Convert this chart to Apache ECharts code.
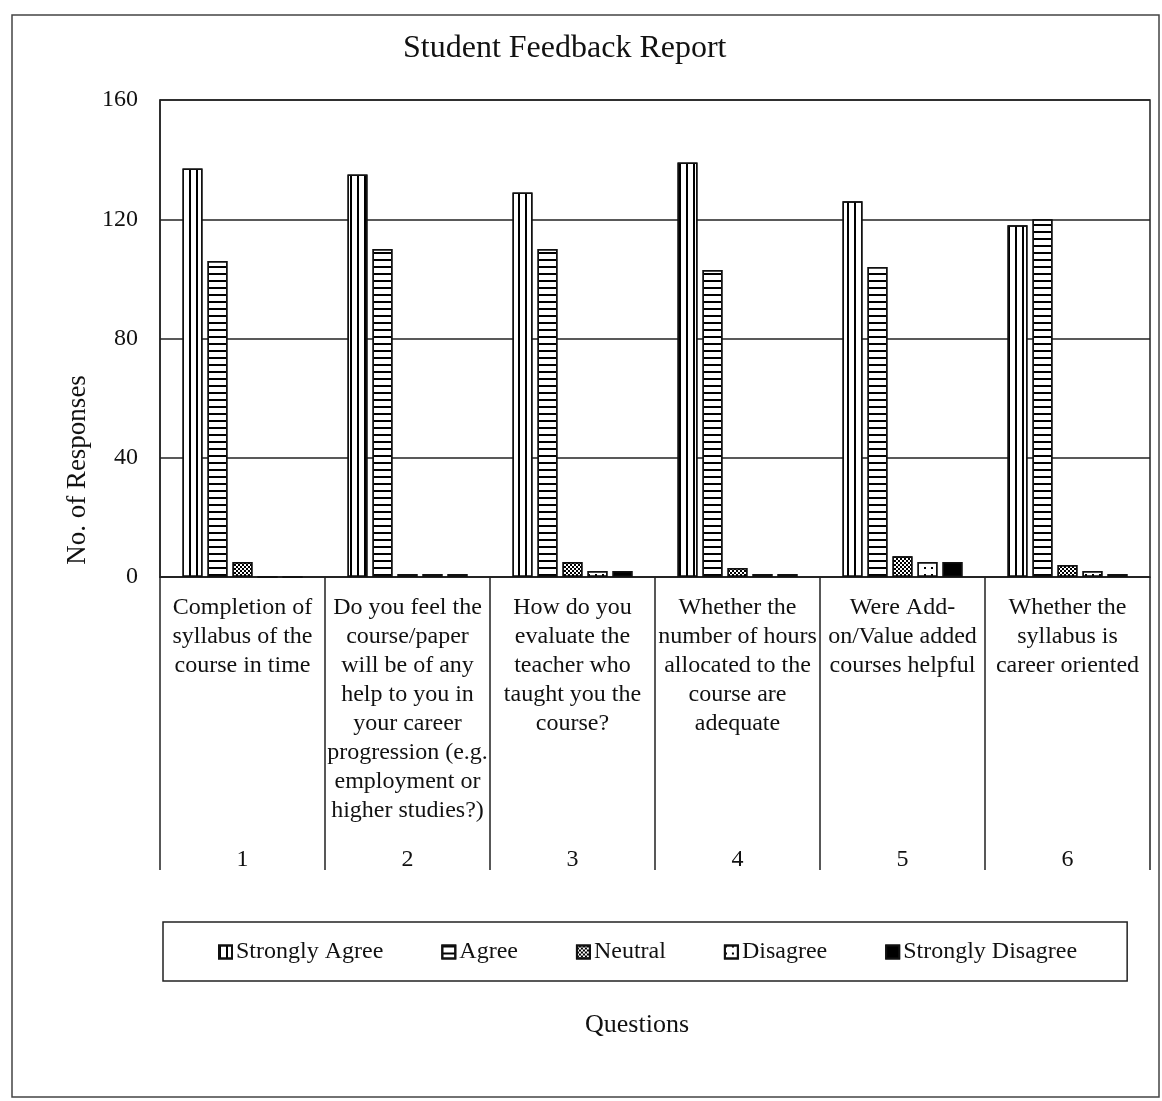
<!DOCTYPE html>
<html>
<head>
<meta charset="utf-8">
<script src="https://cdn.jsdelivr.net/npm/echarts@6/dist/echarts.min.js"></script>
<style>
html,body{margin:0;padding:0;background:#fff;}
#chart{width:1162px;height:1101px;}
</style>
</head>
<body>
<div id="chart"></div>
<script>
// ---- data ----
const questionLabels = [
  ["Completion of", "syllabus of the", "course in time"],
  ["Do you feel the", "course/paper", "will be of any", "help to you in", "your career", "progression (e.g.", "employment or", "higher studies?)"],
  ["How do you", "evaluate the", "teacher who", "taught you the", "course?"],
  ["Whether the", "number of hours", "allocated to the", "course are", "adequate"],
  ["Were Add-", "on/Value added", "courses helpful"],
  ["Whether the", "syllabus is", "career oriented"]
];
const questionNumbers = ["1", "2", "3", "4", "5", "6"];
const seriesNames = ["Strongly Agree", "Agree", "Neutral", "Disagree", "Strongly Disagree"];
const stronglyAgree    = [137, 135, 129, 139, 126, 118];
const agree            = [106, 110, 110, 103, 104, 120];
const neutral          = [5, 1, 5, 3, 7, 4];
const disagree         = [0, 1, 2, 1, 5, 2];
const stronglyDisagree = [0, 1, 2, 1, 5, 1];
const yTicks = { min: 0, max: 160, interval: 40 };

// ---- styles ----
const FONT = "'Liberation Serif', 'Times New Roman', serif";
const INK = '#111';
const decals = [
  { symbol: 'rect', symbolSize: 1, color: '#000', dashArrayX: [1.5, 5], dashArrayY: [1, 0] },
  { symbol: 'rect', symbolSize: 1, color: '#000', dashArrayX: [1, 0], dashArrayY: [1.5, 4.5] },
  { symbol: 'rect', symbolSize: 1, color: '#000', dashArrayX: [[2, 1.5], [0, 2, 1.5, 0]], dashArrayY: [2, 0] },
  { symbol: 'rect', symbolSize: 1, color: '#000', dashArrayX: [1.2, 5], dashArrayY: [1.2, 5] },
  { symbol: 'rect', symbolSize: 1, color: '#000', dashArrayX: [1, 0], dashArrayY: [1, 0] }
];
const fills = ['#fff', '#fff', '#fff', '#fff', '#000'];
const values = [stronglyAgree, agree, neutral, disagree, stronglyDisagree];

const chart = echarts.init(document.getElementById('chart'), null, { renderer: 'canvas' });

const option = {
  backgroundColor: '#fff',
  animation: false,
  title: {
    text: 'Student Feedback Report',
    left: 398, top: 28,
    textStyle: { fontFamily: FONT, fontSize: 32, fontWeight: 'normal', color: INK }
  },
  grid: {
    left: 160, right: 12, top: 100, bottom: 524,
    show: true, borderColor: '#222', borderWidth: 1.5, backgroundColor: 'transparent'
  },
  legend: {
    data: seriesNames,
    left: 163, top: 922,
    padding: [18, 50, 17, 55],
    itemGap: 58, itemWidth: 13, itemHeight: 13,
    borderColor: '#222', borderWidth: 1.5,
    icon: 'rect',
    textStyle: { fontFamily: FONT, fontSize: 24, color: INK, padding: [0, 0, 0, -1] }
  },
  xAxis: [
    {
      type: 'category',
      data: questionLabels.map(l => l.join('\n')),
      boundaryGap: true,
      axisLine: { show: true, lineStyle: { color: '#222', width: 1.5 } },
      axisTick: { show: true, length: 293, lineStyle: { color: '#222', width: 1.5 } },
      axisLabel: {
        interval: 0, margin: 16,
        fontFamily: FONT, fontSize: 24, lineHeight: 29, color: INK,
        align: 'center', verticalAlign: 'top'
      }
    },
    {
      type: 'category',
      data: questionNumbers,
      position: 'bottom',
      axisLine: { show: false },
      axisTick: { show: false },
      axisLabel: {
        interval: 0, margin: 271,
        fontFamily: FONT, fontSize: 24, color: INK
      }
    }
  ],
  yAxis: {
    type: 'value',
    min: yTicks.min, max: yTicks.max, interval: yTicks.interval,
    axisLine: { show: true, lineStyle: { color: '#222', width: 1.5 } },
    axisTick: { show: false },
    splitLine: { show: true, lineStyle: { color: '#222', width: 1.5 } },
    axisLabel: { margin: 22, fontFamily: FONT, fontSize: 24, color: INK }
  },
  series: seriesNames.map((name, i) => ({
    name: name,
    type: 'bar',
    xAxisIndex: 0,
    data: values[i],
    barWidth: 20,
    barGap: '25%',
    itemStyle: {
      color: fills[i],
      borderColor: '#111',
      borderWidth: 1.5,
      decal: decals[i]
    }
  })),
  graphic: [
    {
      type: 'rect',
      shape: { x: 12, y: 15, width: 1147, height: 1082 },
      style: { fill: 'none', stroke: '#444', lineWidth: 1.5 },
      silent: true, z: -1
    },
    {
      type: 'text',
      x: 78, y: 470, rotation: Math.PI / 2,
      style: {
        text: 'No. of Responses', font: '27px ' + FONT, fill: INK,
        textAlign: 'center', textVerticalAlign: 'middle'
      }
    },
    {
      type: 'text',
      x: 637, y: 1025,
      style: {
        text: 'Questions', font: '26px ' + FONT, fill: INK,
        textAlign: 'center', textVerticalAlign: 'middle'
      }
    }
  ]
};
chart.setOption(option);
</script>
</body>
</html>
